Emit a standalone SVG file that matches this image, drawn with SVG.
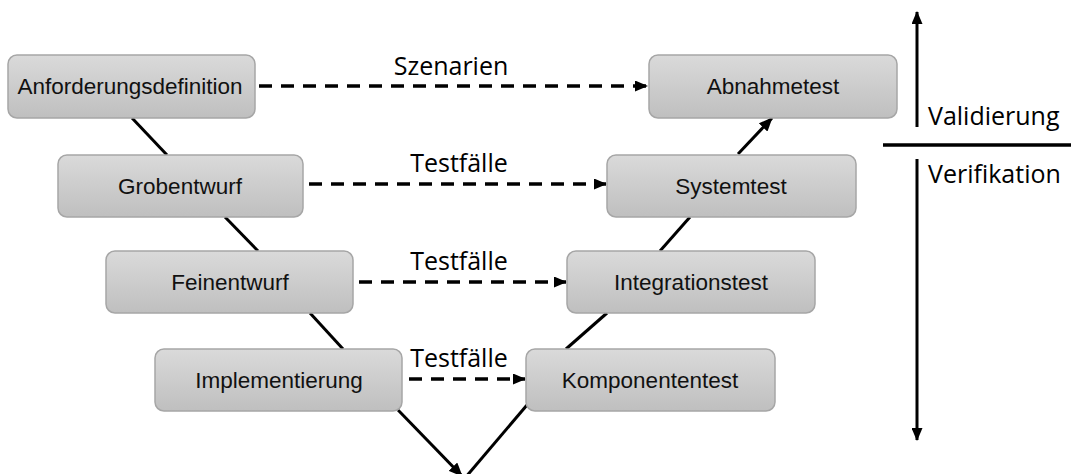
<svg xmlns="http://www.w3.org/2000/svg" width="1071" height="474" viewBox="0 0 1071 474">
<defs>
<linearGradient id="g" x1="0" y1="0" x2="0" y2="1">
<stop offset="0" stop-color="#dadada"/>
<stop offset="1" stop-color="#bfbfbf"/>
</linearGradient>
<marker id="ah" markerWidth="13" markerHeight="11" refX="12" refY="5.5" orient="auto" markerUnits="userSpaceOnUse">
<path d="M0,0 L13,5.5 L0,11 Z" fill="#000"/>
</marker>
<marker id="ah2" markerWidth="14" markerHeight="12" refX="13" refY="6" orient="auto" markerUnits="userSpaceOnUse">
<path d="M0,0 L14,6 L0,12 Z" fill="#000"/>
</marker>
<style>
.box{fill:url(#g);stroke:#a6a6a6;stroke-width:1.5}
.bt{font-family:"Liberation Sans",Arial,sans-serif;font-size:22.5px;fill:#111;text-anchor:middle}
.lbl{font-family:"Open Sans","Noto Sans",sans-serif;font-size:25px;fill:#000}
.dash{stroke:#000;stroke-width:3.3;stroke-dasharray:13 9;fill:none}
.solid{stroke:#000;stroke-width:3;fill:none}
</style>
</defs>
<g id="connectors">
<line class="solid" x1="132" y1="118" x2="167" y2="155"/>
<line class="solid" x1="225" y1="217" x2="258" y2="251"/>
<line class="solid" x1="310" y1="313" x2="343" y2="349"/>
<line class="solid" x1="398" y1="410" x2="462" y2="476" marker-end="url(#ah2)"/>
<line class="solid" x1="465" y1="478" x2="527" y2="405"/>
<line class="solid" x1="566" y1="349" x2="607" y2="313"/>
<line class="solid" x1="660" y1="251" x2="690" y2="217"/>
<line class="solid" x1="738" y1="154" x2="772" y2="118" marker-end="url(#ah2)"/>
<line class="dash" x1="259" y1="86" x2="647" y2="86" marker-end="url(#ah)"/>
<line class="dash" x1="309" y1="184" x2="606" y2="184" marker-end="url(#ah)"/>
<line class="dash" x1="359" y1="282" x2="566" y2="282" marker-end="url(#ah)"/>
<line class="dash" x1="409" y1="379" x2="525" y2="379" marker-end="url(#ah)"/>
</g>
<g id="labels">
<text class="lbl" x="451" y="75" text-anchor="middle">Szenarien</text>
<text class="lbl" x="459" y="172" text-anchor="middle">Testfälle</text>
<text class="lbl" x="459" y="270" text-anchor="middle">Testfälle</text>
<text class="lbl" x="459" y="367" text-anchor="middle">Testfälle</text>
</g>
<g id="n-anforderung"><rect class="box" x="8" y="55" width="247" height="63" rx="9"/><text class="bt" x="130" y="94">Anforderungsdefinition</text></g>
<g id="n-grobentwurf"><rect class="box" x="58" y="155" width="245" height="62" rx="9"/><text class="bt" x="180" y="194">Grobentwurf</text></g>
<g id="n-feinentwurf"><rect class="box" x="106" y="251" width="247" height="62" rx="9"/><text class="bt" x="230" y="290">Feinentwurf</text></g>
<g id="n-implementierung"><rect class="box" x="155" y="349" width="247" height="62" rx="9"/><text class="bt" x="279" y="388">Implementierung</text></g>
<g id="n-abnahmetest"><rect class="box" x="649" y="55" width="248" height="63" rx="9"/><text class="bt" x="773" y="94">Abnahmetest</text></g>
<g id="n-systemtest"><rect class="box" x="607" y="155" width="249" height="62" rx="9"/><text class="bt" x="731" y="194">Systemtest</text></g>
<g id="n-integrationstest"><rect class="box" x="567" y="251" width="248" height="62" rx="9"/><text class="bt" x="691" y="290">Integrationstest</text></g>
<g id="n-komponententest"><rect class="box" x="526" y="349" width="249" height="62" rx="9"/><text class="bt" x="650" y="388">Komponententest</text></g>
<g id="axis">
<line class="solid" x1="917" y1="127" x2="917" y2="12" marker-end="url(#ah)"/>
<line class="solid" x1="917" y1="159" x2="917" y2="440" marker-end="url(#ah)"/>
<line x1="883" y1="145" x2="1071" y2="145" stroke="#000" stroke-width="3.5"/>
<text class="lbl" x="928" y="125">Validierung</text>
<text class="lbl" x="928" y="183">Verifikation</text>
</g>
</svg>
